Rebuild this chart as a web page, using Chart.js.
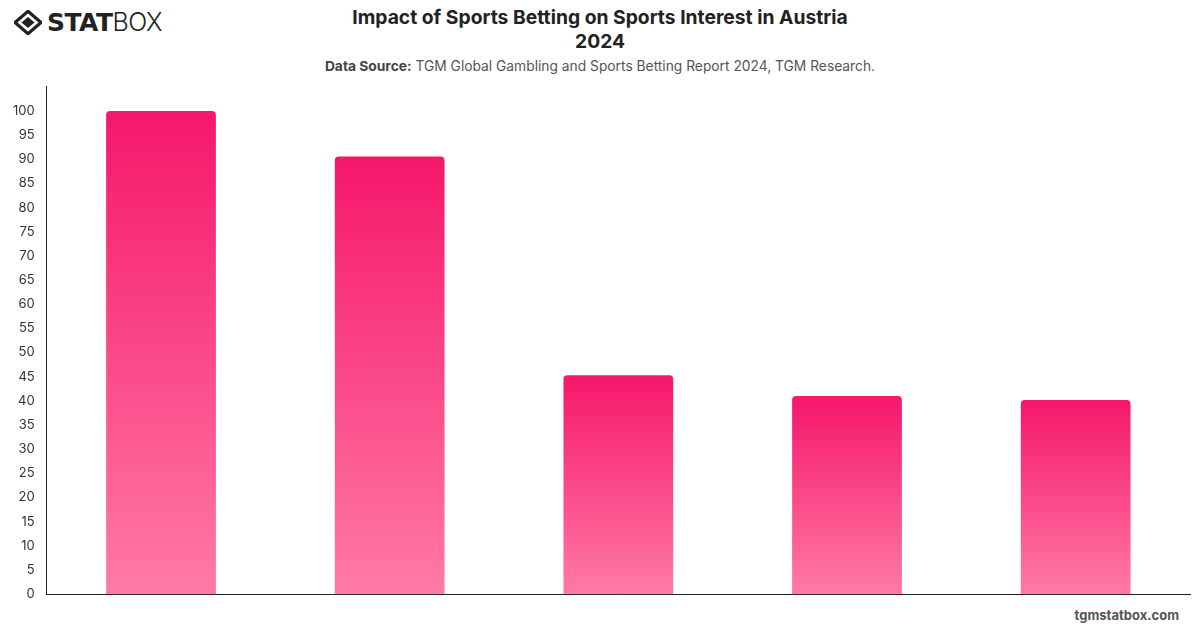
<!DOCTYPE html>
<html>
<head>
<meta charset="utf-8">
<script src="https://cdn.jsdelivr.net/npm/chart.js@4.4.1/dist/chart.umd.min.js"></script>
<style>
  html, body { margin: 0; padding: 0; background: #fff; }
  body { width: 1200px; height: 628px; position: relative; overflow: hidden; font-family: Inter, "Liberation Sans", Arial, sans-serif; }
  #logo { position: absolute; left: 14px; top: 6px; height: 32px; display: flex; align-items: center; color: #222; }
  #logo .stat { font-family: "DejaVu Sans", Inter, sans-serif; font-weight: 900; font-size: 25px; letter-spacing: -0.5px; margin-left: 5px; }
  #logo .box { font-family: Inter, "Liberation Sans", sans-serif; font-weight: 300; font-size: 25px; letter-spacing: -0.5px; }
  #title { position: absolute; left: 0; width: 1200px; top: 5px; text-align: center; font-size: 19.3px; font-weight: 700; color: #222; line-height: 24px; }
  #sub { position: absolute; left: 0; width: 1200px; top: 58px; text-align: center; font-size: 13.8px; color: #555; }
  #sub b { color: #444; }
  #foot { position: absolute; right: 21px; top: 607px; font-size: 13px; font-weight: 700; color: #555; }
  #wrap { position: absolute; left: 0; top: 67px; width: 1200px; height: 547px; }
</style>
</head>
<body>
<div id="logo">
  <svg width="28" height="25" viewBox="0 0 30 26">
    <path d="M15 1 L29 13 L15 25 L1 13 Z" fill="none" stroke="#222" stroke-width="3.5"/>
    <path d="M15 7 L22 13 L15 19 L8 13 Z" fill="#222"/>
  </svg>
  <span class="stat">STAT</span><span class="box">BOX</span>
</div>
<div id="title">Impact of Sports Betting on Sports Interest in Austria<br>2024</div>
<div id="sub"><b>Data Source:</b> TGM Global Gambling and Sports Betting Report 2024, TGM Research.</div>
<div id="foot">tgmstatbox.com</div>
<div id="wrap"><canvas id="c"></canvas></div>
<script>
const categories = ["Category 1", "Category 2", "Category 3", "Category 4", "Category 5"];
const values = [100, 90.6, 45.3, 41.0, 40.2];
const yTicks = [0, 5, 10, 15, 20, 25, 30, 35, 40, 45, 50, 55, 60, 65, 70, 75, 80, 85, 90, 95, 100];

function barGradient(ctx) {
  const chart = ctx.chart;
  const area = chart.chartArea;
  if (!area || ctx.type !== 'data') return '#F5176A';
  const y = chart.scales.y;
  const top = y.getPixelForValue(ctx.raw);
  const bottom = y.getPixelForValue(0);
  const g = chart.ctx.createLinearGradient(0, top, 0, bottom);
  g.addColorStop(0, '#F5176A');
  g.addColorStop(1, '#FF7AA6');
  return g;
}

new Chart(document.getElementById('c'), {
  type: 'bar',
  data: {
    labels: categories,
    datasets: [{
      data: values,
      backgroundColor: barGradient,
      borderRadius: { topLeft: 4, topRight: 4 },
      borderSkipped: 'bottom',
      categoryPercentage: 0.8,
      barPercentage: 0.6
    }]
  },
  options: {
    responsive: true,
    maintainAspectRatio: false,
    animation: false,
    layout: { padding: { left: 1, right: 10, top: 10, bottom: 15 } },
    plugins: { legend: { display: false }, tooltip: { enabled: false } },
    scales: {
      x: {
        grid: { display: false, drawTicks: false },
        border: { display: true, color: '#222', width: 1 },
        ticks: { display: false }
      },
      y: {
        min: 0,
        max: 105,
        afterBuildTicks: (scale) => { scale.ticks = yTicks.map(v => ({ value: v })); },
        grid: { display: false, drawTicks: false },
        border: { display: true, color: '#222', width: 1 },
        ticks: { color: '#333', font: { size: 13, family: 'Inter' }, padding: 12 }
      }
    }
  }
});
</script>
</body>
</html>
